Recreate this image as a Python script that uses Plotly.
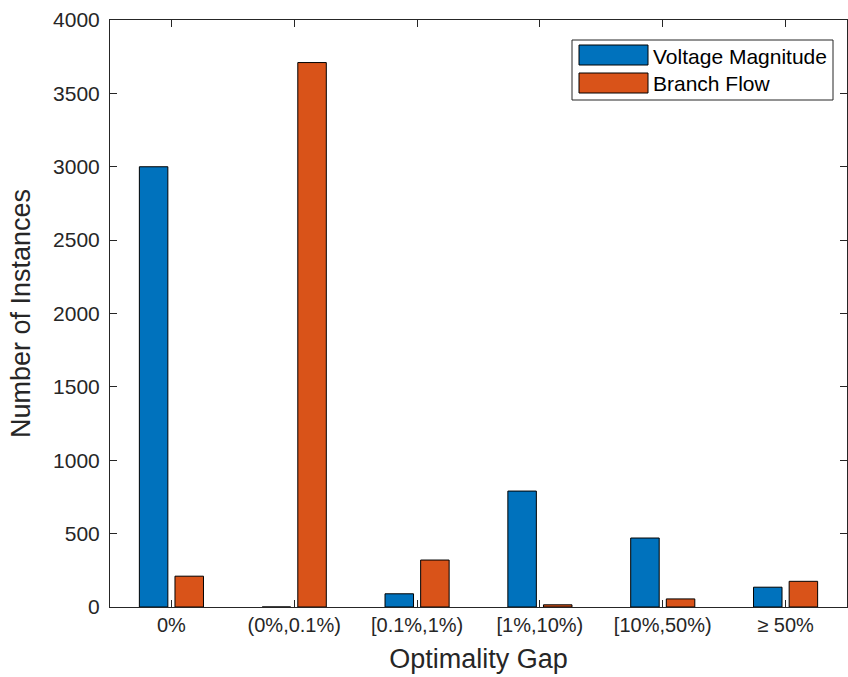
import plotly.graph_objects as go

# Optimality-gap buckets and instance counts per constraint type
categories = ["0%", "(0%,0.1%)", "[0.1%,1%)", "[1%,10%)", "[10%,50%)", "\u2265 50%"]
voltage_magnitude = [3000, 0, 90, 790, 470, 135]
branch_flow = [210, 3710, 320, 15, 55, 175]
y_ticks = [0, 500, 1000, 1500, 2000, 2500, 3000, 3500, 4000]

BLUE = "#0072BD"
ORANGE = "#D95319"
AXIS = "#262626"
FONT = "Liberation Sans, Arial, Helvetica, sans-serif"

W, H = 848, 677
L, R, T, B = 110, 1, 20, 70
PW, PH = W - L - R, H - T - B


def px(x):
    return (x - L) / PW


def py(y):
    return (H - B - y) / PH


fig = go.Figure()
fig.add_trace(go.Bar(x=categories, y=voltage_magnitude, name="Voltage Magnitude",
                     marker=dict(color=BLUE, line=dict(color="black", width=1))))
fig.add_trace(go.Bar(x=categories, y=branch_flow, name="Branch Flow",
                     marker=dict(color=ORANGE, line=dict(color="black", width=1))))

# Legend box drawn with wide swatches
shapes = [dict(type="rect", xref="paper", yref="paper",
               x0=px(572), x1=px(833), y0=py(100), y1=py(40),
               line=dict(color=AXIS, width=1), fillcolor="white", layer="above")]
annotations = []
for i, (name, col) in enumerate([("Voltage Magnitude", BLUE), ("Branch Flow", ORANGE)]):
    yc = 55 + 28 * i
    shapes.append(dict(type="rect", xref="paper", yref="paper",
                       x0=px(579), x1=px(648), y0=py(yc + 10), y1=py(yc - 10),
                       line=dict(color="black", width=1), fillcolor=col, layer="above"))
    annotations.append(dict(xref="paper", yref="paper", x=px(651), y=py(yc + 1),
                            text=name, showarrow=False, xanchor="left", yanchor="middle",
                            font=dict(family=FONT, size=21, color="black")))

fig.update_layout(
    width=W, height=H,
    margin=dict(l=L, r=R, t=T, b=B),
    paper_bgcolor="white", plot_bgcolor="white",
    barmode="group", bargap=0.42, bargroupgap=0.2,
    showlegend=False,
    shapes=shapes, annotations=annotations,
    font=dict(family=FONT, color=AXIS),
    xaxis=dict(
        title=dict(text="Optimality Gap", font=dict(size=27, color=AXIS), standoff=14),
        range=[-0.5, 5.5],
        showline=True, linecolor=AXIS, linewidth=1, mirror="ticks",
        ticks="inside", ticklen=7, tickcolor=AXIS,
        tickfont=dict(size=20, color=AXIS),
        showgrid=False, zeroline=False,
    ),
    yaxis=dict(
        title=dict(text="Number of Instances", font=dict(size=27, color=AXIS), standoff=14),
        range=[0, 4000], tickvals=y_ticks,
        showline=True, linecolor=AXIS, linewidth=1, mirror="ticks",
        ticks="inside", ticklen=7, tickcolor=AXIS,
        tickfont=dict(size=21, color=AXIS), ticklabelstandoff=5,
        showgrid=False, zeroline=False,
    ),
)

fig.write_html("out.html")
